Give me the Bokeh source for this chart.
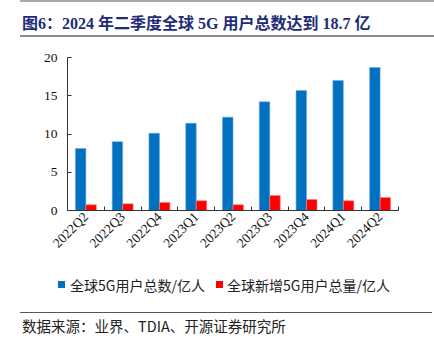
from bokeh.plotting import figure
from bokeh.models import Range1d, FixedTicker, ColumnDataSource, Div
from bokeh.layouts import column
from bokeh.embed import file_html
from bokeh.resources import INLINE
import math

quarters = ["2022Q2", "2022Q3", "2022Q4", "2023Q1", "2023Q2", "2023Q3", "2023Q4", "2024Q1", "2024Q2"]
total_users = [8.1, 9.0, 10.1, 11.4, 12.2, 14.2, 15.7, 17.0, 18.7]
new_users = [0.75, 0.87, 1.05, 1.27, 0.75, 1.95, 1.45, 1.27, 1.7]
y_ticks = [0, 5, 10, 15, 20]

title_text = "图6：2024 年二季度全球 5G 用户总数达到 18.7 亿"
series_names = ["全球5G用户总数/亿人", "全球新增5G用户总量/亿人"]
source_text = "数据来源：业界、TDIA、开源证券研究所"
colors = ["#0070C0", "#FF0000"]

W = 434
H_TOP, H_CHART, H_BOT = 42, 228, 69

# ---------- header (flow layout) ----------
header_html = (
    f'<div style="display:block;box-sizing:border-box;width:{W}px;height:{H_TOP}px;margin:0;padding:0;'
    'overflow:hidden;background:white;text-align:left;">'
    '<div style="display:block;box-sizing:border-box;width:414px;margin:0;padding:0;transform:translateX(20px);">'
    '<div style="display:block;box-sizing:border-box;width:414px;height:1.5px;margin:0;padding:0;background:#A8A8A8;"></div>'
    '<div style="display:block;box-sizing:border-box;width:414px;height:33px;margin:0;padding:11px 0 0 2px;'
    "line-height:22px;font-family:'Liberation Serif','Noto Sans CJK SC';font-weight:bold;font-size:16px;"
    f'color:#1E2C78;white-space:nowrap;overflow:hidden;text-align:left;">{title_text}</div>'
    '<div style="display:block;box-sizing:border-box;width:414px;height:2px;margin:0;padding:0;background:#8C8C8C;"></div>'
    '</div></div>'
)
top = Div(text=header_html, width=W, height=H_TOP, margin=0)

# ---------- chart ----------
FL, FR = 67, 398
p = figure(width=W, height=H_CHART, output_backend="svg", toolbar_location=None,
           x_range=Range1d(0, len(quarters)), y_range=Range1d(0, 20),
           min_border_left=FL, min_border_right=W - FR, min_border_top=15,
           min_border_bottom=60, outline_line_color=None, background_fill_color="white",
           border_fill_color="white")
p.xgrid.visible = False
p.ygrid.visible = False

centers = [i + 0.5 for i in range(len(quarters))]
bw = 0.285
src = ColumnDataSource(dict(
    xb=[c - bw / 2 for c in centers],
    xr=[c + bw / 2 for c in centers],
    tot=total_users, new=new_users))
p.vbar(x="xb", top="tot", width=bw, source=src, fill_color=colors[0], line_color="#6FA8DC", line_width=0.6)
p.vbar(x="xr", top="new", width=bw, source=src, fill_color=colors[1], line_color="#FF8080", line_width=0.6)

axis_color = "#333333"
xa = p.xaxis[0]
xa.ticker = FixedTicker(ticks=centers, minor_ticks=list(range(1, len(quarters) + 1)))
xa.major_label_overrides = {c: q for c, q in zip(centers, quarters)}
xa.major_label_orientation = math.pi / 4
xa.major_tick_in = 0
xa.major_tick_out = 0
xa.minor_tick_in = 4
xa.minor_tick_out = 0
xa.minor_tick_line_color = axis_color
xa.axis_line_color = axis_color
xa.major_label_text_font = "Liberation Serif"
xa.major_label_text_font_size = "13.5px"
xa.major_label_text_color = "#111111"
xa.major_label_standoff = 4

ya = p.yaxis[0]
ya.ticker = FixedTicker(ticks=y_ticks)
ya.major_tick_in = 4
ya.major_tick_out = 0
ya.minor_tick_line_color = None
ya.axis_line_color = axis_color
ya.major_tick_line_color = axis_color
ya.major_label_text_font = "Liberation Serif"
ya.major_label_text_font_size = "13.5px"
ya.major_label_text_color = "#111111"
ya.major_label_standoff = 10

# ---------- footer (legend, rule, source) ----------
cjk = "font-family:'Noto Sans CJK SC';color:#222222;white-space:nowrap;"
footer_html = (
    f'<div style="position:relative;width:{W}px;height:{H_BOT}px;margin:0;padding:0;overflow:hidden;background:white;">'
    f'<div style="position:absolute;left:58px;top:11px;width:7px;height:7px;background:{colors[0]};"></div>'
    f'<div style="position:absolute;left:70px;top:5px;height:20px;line-height:20px;font-size:14px;{cjk}">{series_names[0]}</div>'
    f'<div style="position:absolute;left:216px;top:11px;width:7px;height:7px;background:{colors[1]};"></div>'
    f'<div style="position:absolute;left:227px;top:5px;height:20px;line-height:20px;font-size:14px;{cjk}">{series_names[1]}</div>'
    '<div style="position:absolute;left:20px;top:42px;width:412px;height:0;border-top:1px solid #555555;"></div>'
    f'<div style="position:absolute;left:22px;top:46px;height:20px;line-height:20px;font-size:14.5px;{cjk}">{source_text}</div>'
    '</div>'
)
bot = Div(text=footer_html, width=W, height=H_BOT, margin=0)

layout = column(top, p, bot, spacing=0)
open("out.html", "w").write(file_html(layout, INLINE))
